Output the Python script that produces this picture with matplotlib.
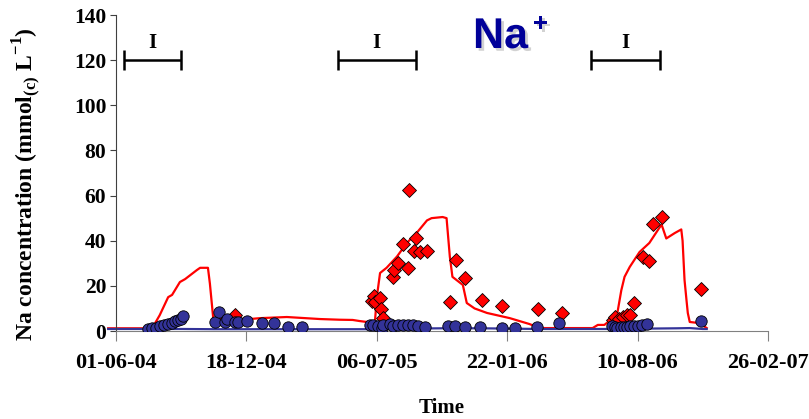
import matplotlib

matplotlib.use("Agg")

import matplotlib.patheffects as pe
import matplotlib.pyplot as plt

# x values are days since 01-06-04
tick_days = [0, 200, 400, 600, 800, 1000]
tick_labels = ["01-06-04", "18-12-04", "06-07-05", "22-01-06", "10-08-06", "26-02-07"]

# simulated Na (red line)
sim_day = [-12, 52, 57, 67, 80, 86, 98, 106, 124, 129, 141, 144, 149, 159, 205, 221, 262,
           313, 343, 363, 374, 385, 397, 400, 405, 415, 431, 446, 461, 477, 484, 501, 507,
           512, 516, 532, 538, 550, 569, 604, 634, 650, 731, 739, 749, 757, 769, 775, 780,
           788, 803, 818, 834, 837, 844, 857, 867, 869, 872, 875, 877, 880, 895, 906]
sim_na = [1.2, 1.2, 2, 7, 15, 16, 21.7, 23, 27, 28, 28, 21, 6, 5.5, 5.3, 5.7, 6.2,
          5.3, 5.0, 4.9, 4.4, 4.0, 3.5, 15, 25.7, 28, 33, 39, 43.4, 49, 50, 50.5, 50,
          33, 24, 20.4, 12.4, 10, 8, 5.7, 3.1, 1.3, 1.3, 2.7, 2.7, 4.5, 8, 18, 24,
          28.4, 35, 39, 46, 47, 41, 43.4, 45, 40, 22.6, 13.7, 8, 4, 3.5, 1.3]

# simulated Na, second series (blue line)
sim2_day = [-12, 100, 150, 300, 390, 420, 500, 560, 650, 760, 860, 880, 900, 906]
sim2_na = [0.9, 0.9, 0.8, 0.8, 0.8, 1.0, 1.2, 1.2, 0.9, 0.9, 1.2, 1.3, 0.9, 0.9]

# measured (red diamonds)
obs_day = [182, 392, 395, 398, 405, 406, 409, 425, 426, 432, 440, 448, 449, 457, 460,
           467, 477, 512, 521, 536, 562, 592, 648, 684,
           762, 765, 771, 777, 783, 789, 795, 809, 817, 823, 837, 898]
obs_na = [7.0, 13.3, 15.5, 13.0, 14.6, 9.7, 5.7, 24, 27, 30, 38.5, 28, 62.5, 35.4, 41,
          35, 35.4, 13, 31.5, 23.5, 13.7, 11, 9.7, 8,
          5, 6, 5.3, 6, 7, 7, 12.4, 33, 31, 47.4, 50.5, 18.6]

# measured (blue circles)
obs2_day = [49, 55, 61, 67, 74, 80, 86, 90, 95, 100, 103,
            152, 158, 167, 170, 182, 187, 201, 224, 242, 264, 285,
            389, 394, 402, 408, 409, 420, 425, 432, 440, 448, 455, 463, 474,
            509, 520, 535, 559, 592, 612, 645, 680,
            760, 765, 769, 774, 779, 783, 788, 794, 800, 806, 814, 898]
obs2_na = [1.0, 1.2, 1.5, 2.0, 2.6, 3.1, 3.7, 4.3, 4.9, 5.5, 6.5,
           4.0, 8.4, 4.0, 5.3, 4.0, 4.0, 4.4, 3.5, 3.5, 1.8, 1.8,
           2.7, 2.5, 2.2, 1.3, 2.5, 3.1, 2.2, 2.5, 2.5, 2.7, 2.5, 2.2, 1.8,
           2.2, 2.2, 1.8, 1.8, 1.3, 1.3, 1.8, 3.5,
           2.2, 1.8, 1.3, 1.6, 1.8, 1.8, 2.0, 2.2, 2.4, 2.6, 3.1, 4.4]

# irrigation periods
irr_start = [12, 340, 728]
irr_end = [100, 460, 834]
irr_level = 120

plt.rcParams["font.family"] = ["Liberation Serif", "DejaVu Serif"]
plt.rcParams["font.weight"] = "bold"
plt.rcParams["mathtext.fontset"] = "custom"
plt.rcParams["mathtext.rm"] = "Liberation Serif:bold"
plt.rcParams["mathtext.bf"] = "Liberation Serif:bold"

fig = plt.figure(figsize=(8.09, 4.19), dpi=100)
ax = fig.add_axes([0.1434, 0.21, 0.8059, 0.7542])

ax.plot(sim_day, sim_na, color="#ff0000", lw=1.6, zorder=2, clip_on=False)
ax.plot(sim2_day, sim2_na, color="#333399", lw=1.6, zorder=2, clip_on=False)
ax.plot(obs_day, obs_na, "D", color="#ff0000", mec="black", mew=0.6, ms=6.8,
        ls="none", zorder=3)
ax.plot(obs2_day, obs2_na, "o", color="#333399", mec="black", mew=0.6, ms=8.2,
        ls="none", zorder=4)

centers = [(s + e) / 2 for s, e in zip(irr_start, irr_end)]
halves = [(e - s) / 2 for s, e in zip(irr_start, irr_end)]
ax.errorbar(centers, [irr_level] * 3, xerr=halves, fmt="none", ecolor="black",
            elinewidth=1.8, capsize=7.2, capthick=1.8)
for c in centers:
    ax.text(c, irr_level + 3.0, "I", ha="center", va="bottom", fontsize=15,
            fontweight="bold")

ax.set_xlim(0, 1000)
ax.set_ylim(0, 140)
ax.set_xticks(tick_days)
ax.set_xticklabels(tick_labels)
ax.set_yticks(range(0, 141, 20))
for sp in ["top", "right"]:
    ax.spines[sp].set_visible(False)
ax.spines["bottom"].set_color("#808080")
ax.spines["left"].set_color("#404040")
ax.tick_params(axis="x", length=7, color="#808080", labelsize=16, pad=9)
ax.tick_params(axis="y", length=4, color="#404040", labelsize=15.5, pad=3)

ax.set_xlabel("Time", fontsize=15, fontweight="bold", labelpad=18)
ax.set_ylabel(r"Na concentration (mmol$_{\mathrm{(c)}}$ L$^{\mathrm{-1}}$)",
              fontsize=17, fontweight="bold")
ax.yaxis.set_label_coords(-0.11, 0.465)

shadow = [pe.withSimplePatchShadow(offset=(2, -2), shadow_rgbFace="gray", alpha=0.35)]
fig.text(473 / 809, 1 - 48 / 419, "Na", fontsize=31, fontweight="bold",
         family="Liberation Sans", color="#000099", ha="left", va="baseline",
         path_effects=shadow)
fig.text(533 / 809, 1 - 31 / 419, "+", fontsize=19, fontweight="bold",
         family="Liberation Sans", color="#000099", ha="left", va="baseline",
         path_effects=shadow)

fig.savefig("out.png", dpi=100)
plt.close(fig)
